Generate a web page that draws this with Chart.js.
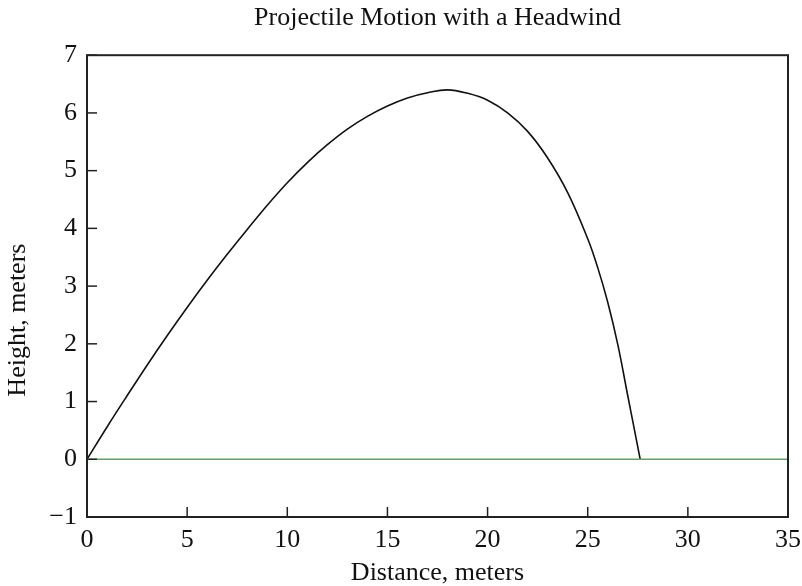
<!DOCTYPE html>
<html>
<head>
<meta charset="utf-8">
<script src="https://cdn.jsdelivr.net/npm/chart.js@4.4.0/dist/chart.umd.min.js"></script>
<style>
  html, body { margin: 0; padding: 0; background: #fff; }
</style>
</head>
<body>
<canvas id="trajectory" width="802" height="586"></canvas>
<script>
// ---------------- Data ----------------
const distance = [0, 1, 2, 3, 4, 5, 6, 7, 8, 9, 10, 11, 12, 13, 14, 15, 16, 17, 18, 19, 20,
                  21, 22, 23, 24, 25, 25.5, 26, 26.5, 27, 27.3, 27.62];
const height   = [0, 0.56, 1.10, 1.63, 2.14, 2.63, 3.10, 3.55, 3.98, 4.40, 4.79, 5.14, 5.45,
                  5.72, 5.94, 6.12, 6.26, 6.35, 6.40, 6.34, 6.22, 6.00, 5.68, 5.22, 4.62,
                  3.82, 3.32, 2.72, 1.99, 1.10, 0.57, 0];
const groundX = [0, 35];
const groundY = [0, 0];
const xTickStep = 5;
const yTickStep = 1;

const FONT = "'Liberation Serif', 'DejaVu Serif', serif";
const INK = '#111';

// inward ticks, box frame and the y label (placed a bit below centre, as in the original)
const frameTicks = {
  id: 'frameTicks',
  afterDatasetsDraw(chart) {
    const { ctx, chartArea: a, scales: { x, y } } = chart;
    ctx.save();
    ctx.strokeStyle = '#222';
    ctx.lineWidth = 1.5;
    x.ticks.forEach(t => {
      const px = x.getPixelForValue(t.value);
      ctx.beginPath();
      ctx.moveTo(px, a.bottom);
      ctx.lineTo(px, a.bottom - 10);
      ctx.stroke();
    });
    y.ticks.forEach(t => {
      const py = y.getPixelForValue(t.value);
      ctx.beginPath();
      ctx.moveTo(a.left, py);
      ctx.lineTo(a.left + 10, py);
      ctx.stroke();
    });
    ctx.lineWidth = 2;
    ctx.strokeRect(a.left, a.top, a.right - a.left, a.bottom - a.top);

    // y axis title
    ctx.translate(18, (a.top + a.bottom) / 2 + 34);
    ctx.rotate(-Math.PI / 2);
    ctx.fillStyle = INK;
    ctx.font = '26px ' + FONT;
    ctx.textAlign = 'center';
    ctx.textBaseline = 'middle';
    ctx.fillText('Height, meters', 0, 0);
    ctx.restore();
  }
};

new Chart(document.getElementById('trajectory').getContext('2d'), {
  type: 'scatter',
  data: {
    datasets: [
      {
        label: 'ground',
        data: groundX.map((v, i) => ({ x: v, y: groundY[i] })),
        showLine: true,
        borderColor: '#4caf50',
        borderWidth: 1.4,
        pointRadius: 0
      },
      {
        label: 'trajectory',
        data: distance.map((v, i) => ({ x: v, y: height[i] })),
        showLine: true,
        borderColor: INK,
        borderWidth: 1.6,
        pointRadius: 0,
        tension: 0.4
      }
    ]
  },
  options: {
    responsive: false,
    animation: false,
    layout: { padding: 0 },
    plugins: {
      legend: { display: false },
      tooltip: { enabled: false },
      title: {
        display: true,
        text: 'Projectile Motion with a Headwind',
        fullSize: false,
        color: INK,
        font: { family: FONT, size: 26, weight: 'normal' },
        padding: { top: 3, bottom: 21 }
      }
    },
    scales: {
      x: {
        type: 'linear',
        min: 0,
        max: 35,
        grid: { display: false, drawTicks: false },
        border: { display: false },
        ticks: {
          stepSize: xTickStep,
          color: INK,
          padding: 8,
          maxRotation: 0,
          font: { family: FONT, size: 26 }
        },
        title: {
          display: true,
          text: 'Distance, meters',
          color: INK,
          font: { family: FONT, size: 26 },
          padding: { top: 4, bottom: -3 }
        },
        afterFit: s => {
          s.height = 69;
          s.paddingLeft = 0;
          s.paddingRight = 14; // plot ends at x = 788
        }
      },
      y: {
        min: -1,
        max: 7,
        grid: { display: false, drawTicks: false },
        border: { display: false },
        ticks: {
          stepSize: yTickStep,
          color: INK,
          padding: 10,
          font: { family: FONT, size: 26 },
          callback: v => v < 0 ? '\u2212' + Math.abs(v) : v
        },
        afterFit: s => { s.width = 87; }
      }
    }
  },
  plugins: [frameTicks]
});
</script>
</body>
</html>
